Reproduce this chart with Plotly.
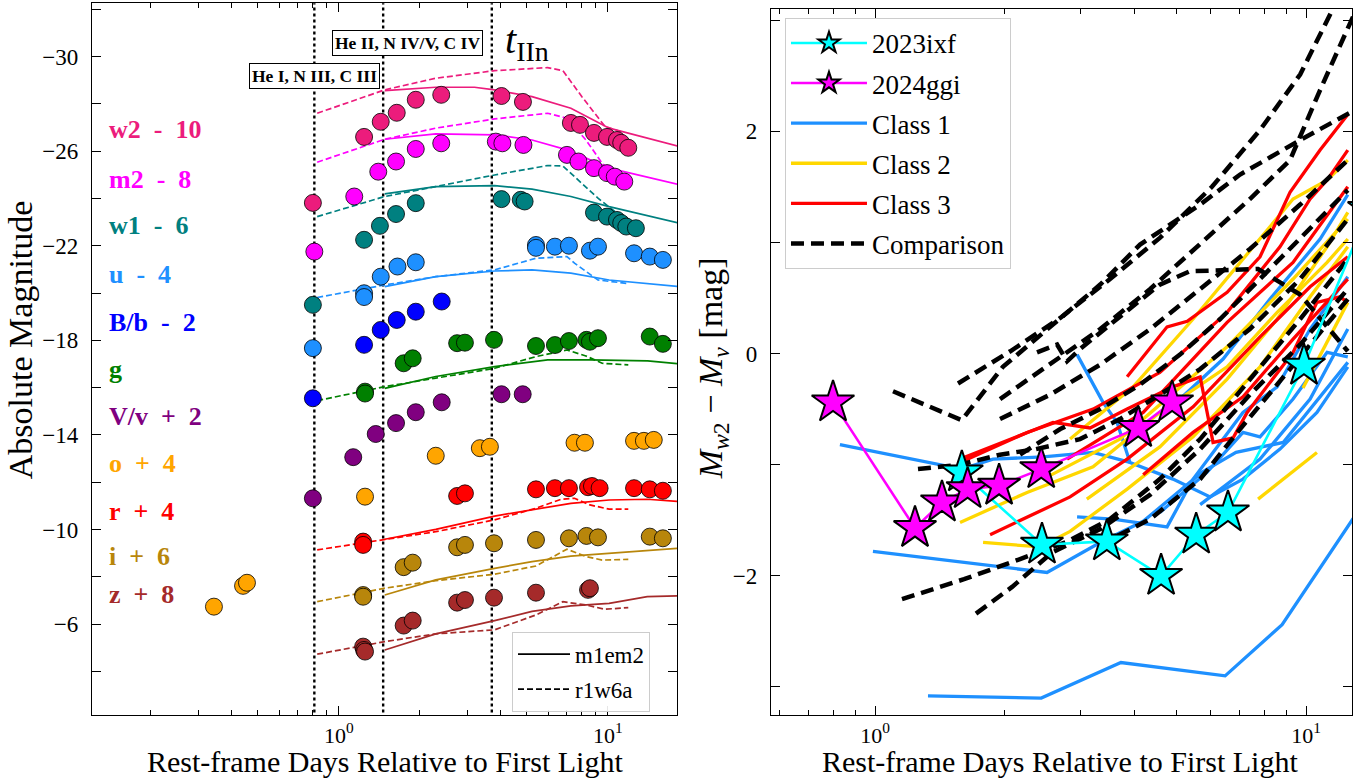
import numpy as np
import plotly.graph_objects as go

FONT = "Liberation Serif"

# ---------------- LEFT PANEL DATA (rest-frame days, absolute magnitude incl. offset) ----------------
w2_t = [0.80, 1.24, 1.43, 1.64, 1.93, 2.40, 4.02, 4.83, 7.28, 7.87, 8.87, 9.92, 10.8, 11.2, 11.9]
w2_m = [-23.81, -26.60, -27.24, -27.62, -28.17, -28.38, -28.33, -28.08, -27.19, -27.11, -26.77, -26.60, -26.47, -26.35, -26.14]
m2_t = [0.81, 1.14, 1.40, 1.63, 1.93, 2.40, 3.83, 4.05, 4.85, 7.04, 7.77, 8.87, 9.92, 10.6, 11.5]
m2_m = [-21.75, -24.08, -25.13, -25.56, -26.09, -26.33, -26.40, -26.33, -26.26, -25.84, -25.56, -25.28, -25.07, -24.92, -24.71]
w1_t = [0.80, 1.24, 1.42, 1.63, 1.93, 4.02, 4.74, 4.90, 8.87, 9.92, 10.8, 11.2, 11.7, 12.7]
w1_m = [-19.50, -22.25, -22.84, -23.34, -23.80, -23.97, -23.94, -23.87, -23.40, -23.23, -23.09, -22.96, -22.81, -22.74]
u_t = [0.80, 1.24, 1.24, 1.43, 1.65, 1.93, 5.40, 5.40, 6.35, 7.16, 8.57, 9.18, 12.5, 14.3, 16.0]
u_m = [-17.67, -19.99, -19.83, -20.69, -21.12, -21.30, -22.03, -21.91, -21.96, -22.00, -21.79, -21.96, -21.68, -21.54, -21.40]
B_t = [0.80, 1.24, 1.43, 1.64, 1.93, 2.41]
B_m = [-15.55, -17.81, -18.44, -18.86, -19.21, -19.64]
g_t = [1.25, 1.25, 1.74, 1.88, 2.75, 2.94, 3.77, 5.40, 6.35, 7.16, 8.32, 8.57, 9.18, 14.3, 16.0]
g_m = [-15.83, -15.75, -17.03, -17.24, -17.88, -17.90, -18.02, -17.76, -17.80, -17.97, -18.02, -17.94, -18.09, -18.16, -17.85]
V_t = [0.80, 1.13, 1.37, 1.63, 1.93, 2.41, 4.02, 4.82]
V_m = [-11.32, -13.06, -14.04, -14.50, -14.96, -15.38, -15.72, -15.72]
o_t = [0.343, 0.44, 0.455, 1.25, 2.29, 3.34, 3.64, 7.51, 8.21, 12.5, 13.6, 14.8]
o_m = [-6.74, -7.62, -7.75, -11.39, -13.12, -13.44, -13.50, -13.67, -13.67, -13.75, -13.75, -13.79]
r_t = [1.23, 1.23, 2.75, 2.94, 5.40, 6.35, 7.16, 8.43, 8.72, 9.31, 12.5, 14.3, 16.0]
r_m = [-9.49, -9.35, -11.42, -11.53, -11.70, -11.75, -11.75, -11.79, -11.84, -11.75, -11.75, -11.70, -11.64]
i_t = [1.23, 1.23, 1.74, 1.88, 2.75, 2.94, 3.77, 5.40, 7.16, 8.32, 9.18, 14.3, 16.0]
i_m = [-7.23, -7.16, -8.41, -8.60, -9.25, -9.35, -9.42, -9.56, -9.63, -9.73, -9.67, -9.70, -9.63]
z_t = [1.23, 1.24, 1.25, 1.74, 1.88, 2.75, 2.94, 3.77, 5.40, 8.43, 8.57]
z_m = [-5.05, -4.91, -4.84, -5.94, -6.15, -6.91, -7.02, -7.12, -7.33, -7.45, -7.52]

# model m1em2 (solid) and r1w6a (dashed)
w2_sol_t = [1.48, 2.29, 3.19, 3.79, 5.22, 7.28, 10.1, 11.9, 18.5]
w2_sol_m = [-28.56, -28.70, -28.70, -28.59, -28.30, -27.81, -26.97, -26.76, -26.19]
w2_das_t = [0.83, 1.48, 2.29, 3.79, 5.97, 6.80, 8.00, 9.75, 11.2]
w2_das_m = [-27.60, -28.59, -29.08, -29.40, -29.53, -29.40, -28.30, -27.04, -26.82]
m2_sol_t = [1.48, 2.29, 3.79, 5.22, 7.04, 10.1, 18.5]
m2_sol_m = [-26.50, -26.73, -26.69, -26.47, -26.05, -25.28, -24.57]
m2_das_t = [0.83, 1.48, 2.29, 3.79, 5.97, 7.04, 8.28, 9.51, 10.4]
m2_das_m = [-25.53, -26.50, -26.97, -27.36, -27.60, -27.39, -26.47, -25.49, -25.07]
w1_sol_t = [1.48, 2.29, 3.79, 5.22, 7.28, 10.1, 18.5]
w1_sol_m = [-24.19, -24.50, -24.54, -24.39, -24.08, -23.65, -22.95]
w1_das_t = [0.83, 1.48, 2.29, 3.79, 5.97, 6.80, 7.51, 9.18, 11.2]
w1_das_m = [-23.23, -24.08, -24.50, -24.99, -25.39, -25.37, -24.92, -24.01, -23.23]
u_sol_t = [1.48, 2.29, 3.79, 5.22, 7.28, 10.1, 18.5]
u_sol_m = [-20.27, -20.69, -20.93, -20.98, -20.84, -20.55, -20.27]
u_das_t = [0.83, 1.48, 2.29, 3.79, 5.40, 7.04, 7.51, 9.18, 11.7]
u_das_m = [-19.81, -20.34, -20.69, -20.98, -21.47, -21.54, -21.26, -20.55, -20.41]
g_sol_t = [1.48, 2.29, 3.79, 5.97, 8.57, 14.05, 18.5]
g_sol_m = [-15.97, -16.47, -16.89, -17.17, -17.17, -17.13, -17.00]
g_das_t = [0.83, 1.48, 2.29, 3.79, 5.40, 7.04, 8.28, 9.51, 11.9]
g_das_m = [-15.45, -16.04, -16.40, -16.82, -17.31, -17.59, -17.34, -17.03, -16.96]
r_sol_t = [1.48, 2.29, 3.79, 5.22, 7.28, 10.1, 14.0, 18.5]
r_sol_m = [-9.59, -10.01, -10.57, -10.83, -11.11, -11.25, -11.28, -11.18]
r_das_t = [0.83, 1.48, 2.29, 3.79, 5.40, 6.69, 7.51, 8.57, 10.1, 11.9]
r_das_m = [-9.14, -9.59, -9.91, -10.41, -10.90, -11.28, -11.32, -11.04, -10.86, -10.86]
i_sol_t = [1.48, 2.29, 3.79, 5.22, 7.28, 10.1, 14.0, 18.5]
i_sol_m = [-7.23, -7.87, -8.36, -8.64, -8.88, -9.00, -9.14, -9.21]
i_das_t = [0.83, 1.48, 2.29, 3.79, 5.40, 7.04, 8.28, 9.51, 11.9]
i_das_m = [-6.95, -7.52, -7.84, -8.11, -8.46, -9.17, -8.86, -8.71, -8.74]
z_sol_t = [1.48, 2.29, 3.79, 5.22, 7.28, 10.1, 14.0, 18.5]
z_sol_m = [-4.91, -5.59, -6.15, -6.54, -6.77, -6.88, -7.16, -7.20]
z_das_t = [0.83, 1.48, 2.29, 3.79, 5.40, 6.80, 8.28, 9.75, 11.9]
z_das_m = [-4.73, -5.26, -5.59, -5.76, -6.39, -6.95, -6.81, -6.63, -6.70]

# vertical phase markers (days)
phase_days = [0.81, 1.46, 3.70]

filter_labels = ["w2\u2002-\u200210", "m2\u2002-\u20028", "w1\u2002-\u20026", "u\u2002-\u20024",
                 "B/b\u2002-\u20022", "g", "V/v\u2002+\u20022", "o\u2002+\u20024", "r\u2002+\u20024",
                 "i\u2002+\u20026", "z\u2002+\u20028"]
filter_colors = ["#EC1C7C", "#FF00FF", "#008080", "#1E90FF", "#0000FF", "#008000", "#800080", "#FFA500", "#FF0000", "#B8860B", "#A52A2A"]
label_mags = [-26.90, -24.78, -22.84, -20.77, -18.74, -16.75, -14.80, -12.78, -10.77, -8.84, -7.27]

# ---------------- RIGHT PANEL DATA (days, M_w2 - M_v) ----------------
ixf_t = [1.59, 2.44, 3.45, 4.61, 5.56, 6.59, 9.89, 14.0]
ixf_c = [-1.07, -1.72, -1.69, -2.00, -1.63, -1.43, -0.11, 1.30]
ggi_t = [0.799, 1.238, 1.43, 1.64, 1.94, 2.43, 4.08, 4.89]
ggi_c = [-0.44, -1.57, -1.34, -1.22, -1.19, -1.04, -0.67, -0.44]

class1_t = [
    [1.327, 2.43, 3.72, 6.49, 8.80, 13.2],
    [0.829, 1.59, 1.878, 2.454, 3.205, 3.905],
    [0.989, 2.506, 3.33, 4.19, 5.73, 6.88, 8.85, 12.5],
    [2.943, 3.381, 3.644, 3.905, 4.91, 5.99, 7.14, 8.70, 10.6, 12.5],
    [2.943, 3.566, 4.76, 5.47, 7.14, 8.57, 10.22, 12.5],
    [4.58, 5.89, 7.14, 7.82, 9.33, 11.19, 12.5],
    [5.10, 6.42, 8.25, 10.78, 12.5],
    [5.68, 7.82, 10.22, 12.5],
]
class1_c = [
    [-3.08, -3.10, -2.78, -2.90, -2.44, -1.42],
    [-0.82, -1.04, -0.95, -0.93, -0.89, -0.98],
    [-1.78, -1.97, -1.70, -1.51, -1.07, -0.89, -0.80, -0.08],
    [-0.01, -0.44, -0.62, -0.98, -1.13, -1.29, -1.13, -0.86, -0.53, -0.12],
    [-1.47, -1.49, -1.56, -1.13, -0.53, -0.30, 0.22, 0.69],
    [-1.43, -1.07, -0.71, -0.75, -0.41, 0.01, -0.03],
    [-0.41, -0.05, 0.49, 1.03, 1.43],
    [-1.36, -0.95, -0.41, 0.22],
]
class2_t = [
    [1.575, 2.253, 3.205, 4.58, 6.56, 8.57, 11.19, 12.5],
    [1.781, 2.415, 2.835, 3.845, 5.47, 7.82, 10.22, 12.5],
    [3.10, 4.58, 6.56, 8.57, 11.19, 12.5],
    [2.835, 3.97, 5.47, 7.14, 9.33, 11.19, 12.5],
    [2.454, 3.70, 6.56, 9.33, 12.5],
    [7.74, 10.6],
    [9.84, 12.5],
]
class2_c = [
    [-1.52, -1.25, -1.02, -0.53, -0.12, 0.37, 0.82, 1.03],
    [-1.70, -1.74, -1.60, -1.22, -0.75, -0.12, 0.51, 0.96],
    [-1.31, -0.84, -0.23, 0.31, 0.96, 1.27],
    [-0.77, -0.30, 0.31, 0.85, 1.39, 1.56, 1.74],
    [-1.13, -0.77, 0.06, 0.67, 1.21],
    [-1.31, -0.89],
    [-0.31, 0.46],
]
class3_t = [
    [1.575, 2.588, 3.154, 3.845, 4.91, 5.68, 6.085, 6.77, 7.30, 9.33, 10.6, 11.99, 12.5],
    [1.575, 2.253, 3.205, 4.58, 6.56, 8.70, 10.22, 11.19, 12.5],
    [3.845, 4.76, 5.30, 6.56, 7.82, 9.18, 10.78, 12.5],
    [1.849, 2.835, 3.845, 5.47, 7.82, 10.22, 12.5],
    [2.79, 4.19, 6.56, 9.33, 12.5],
    [4.19, 5.47, 7.14, 9.33, 12.5],
]
class3_c = [
    [-0.95, -0.62, -0.67, -0.50, -0.30, -0.21, -0.80, -0.76, -0.53, 0.01, 0.46, 0.51, 0.46],
    [-0.98, -0.71, -0.50, -0.17, 0.37, 0.96, 1.39, 1.56, 1.83],
    [-0.21, 0.24, 0.29, 0.55, 0.87, 1.45, 1.83, 2.15],
    [-1.63, -1.29, -0.95, -0.48, 0.15, 0.60, 0.87],
    [-0.95, -0.53, 0.28, 0.82, 1.50],
    [-1.09, -0.71, -0.39, 0.13, 0.67],
]
comp_t = [
    [1.101, 1.59, 1.98, 2.47, 3.33, 4.12, 5.68, 7.03, 9.69, 12.98],
    [1.558, 2.06, 2.69, 3.51, 4.58, 6.05, 7.82, 9.69, 11.68],
    [1.95, 2.55, 3.33, 4.35, 5.68, 7.41, 9.18, 10.78, 13.06],
    [2.376, 2.645, 2.79, 2.99, 3.51, 4.58, 5.38, 7.74, 9.69, 12.5],
    [1.95, 2.55, 3.33, 4.35, 5.68, 7.41, 9.69, 12.5],
    [2.17, 2.69, 3.33, 4.12, 5.10, 6.32, 7.82, 9.69, 12.5],
    [1.155, 1.609, 2.17, 2.80, 3.51, 4.58, 5.68, 7.41, 9.69, 12.5],
    [1.715, 2.08, 2.575, 3.33, 4.35, 5.68, 7.41, 9.69, 12.5],
    [1.258, 1.575, 1.95, 2.363, 2.99, 3.70, 4.58, 5.68, 7.41, 9.69, 12.5],
    [3.33, 4.35, 5.68, 7.03, 9.18, 12.5],
]
comp_c = [
    [-0.34, -0.60, -0.12, 0.19, 0.62, 0.98, 1.34, 1.61, 1.92, 2.19],
    [-0.27, 0.02, 0.32, 0.67, 1.04, 1.50, 2.01, 2.51, 3.14],
    [-0.41, -0.10, 0.22, 0.58, 0.98, 1.39, 1.74, 2.37, 3.09],
    [0.01, 0.08, -0.07, 0.04, 0.26, 0.62, 0.74, 0.76, 0.53, 0.02],
    [-0.59, -0.37, -0.10, 0.22, 0.58, 0.94, 1.34, 1.74],
    [-0.91, -0.68, -0.50, -0.28, -0.01, 0.31, 0.67, 1.03, 1.47],
    [-2.21, -2.03, -1.85, -1.69, -1.49, -1.13, -0.77, -0.23, 0.31, 0.85],
    [-2.34, -2.10, -1.79, -1.58, -1.27, -0.86, -0.37, 0.08, 0.58],
    [-1.04, -1.00, -0.91, -0.86, -0.77, -0.59, -0.37, -0.14, 0.22, 0.67, 1.21],
    [-1.72, -1.49, -1.13, -0.68, -0.14, 0.49],
]

# ---------------- FIGURE ----------------
fig = go.Figure()

for d in phase_days:
    fig.add_trace(go.Scatter(x=[d, d], y=[-1.0, -34.0], mode="lines", xaxis="x", yaxis="y",
                             line=dict(color="black", width=2.4, dash="dot"), showlegend=False, hoverinfo="skip"))

model_sets = [
    (w2_sol_t, w2_sol_m, w2_das_t, w2_das_m, filter_colors[0]),
    (m2_sol_t, m2_sol_m, m2_das_t, m2_das_m, filter_colors[1]),
    (w1_sol_t, w1_sol_m, w1_das_t, w1_das_m, filter_colors[2]),
    (u_sol_t, u_sol_m, u_das_t, u_das_m, filter_colors[3]),
    (g_sol_t, g_sol_m, g_das_t, g_das_m, filter_colors[5]),
    (r_sol_t, r_sol_m, r_das_t, r_das_m, filter_colors[8]),
    (i_sol_t, i_sol_m, i_das_t, i_das_m, filter_colors[9]),
    (z_sol_t, z_sol_m, z_das_t, z_das_m, filter_colors[10]),
]
for st, sm, dt, dm, col in model_sets:
    fig.add_trace(go.Scatter(x=st, y=sm, mode="lines", xaxis="x", yaxis="y",
                             line=dict(color=col, width=1.7), showlegend=False, hoverinfo="skip"))
    fig.add_trace(go.Scatter(x=dt, y=dm, mode="lines", xaxis="x", yaxis="y",
                             line=dict(color=col, width=1.7, dash="6px,3px"), showlegend=False, hoverinfo="skip"))

phot = [(w2_t, w2_m), (m2_t, m2_m), (w1_t, w1_m), (u_t, u_m), (B_t, B_m), (g_t, g_m),
        (V_t, V_m), (o_t, o_m), (r_t, r_m), (i_t, i_m), (z_t, z_m)]
for (t, m), col in zip(phot, filter_colors):
    fig.add_trace(go.Scatter(x=t, y=m, mode="markers", xaxis="x", yaxis="y",
                             marker=dict(size=17, color=col, line=dict(color="black", width=0.8)),
                             showlegend=False))

fig.add_trace(go.Scatter(x=[None], y=[None], mode="lines", xaxis="x", yaxis="y", name="m1em2",
                         line=dict(color="black", width=1.8), legend="legend2", legendgroup="a"))
fig.add_trace(go.Scatter(x=[None], y=[None], mode="lines", xaxis="x", yaxis="y", name="r1w6a",
                         line=dict(color="black", width=1.8, dash="6px,3px"), legend="legend2", legendgroup="b"))

for k, (t, c) in enumerate(zip(class1_t, class1_c)):
    fig.add_trace(go.Scatter(x=t, y=c, mode="lines", xaxis="x2", yaxis="y2", name="Class 1",
                             line=dict(color="#1E90FF", width=3.3), showlegend=(k == 0),
                             legendgroup="c1", legendrank=3))
for k, (t, c) in enumerate(zip(class2_t, class2_c)):
    fig.add_trace(go.Scatter(x=t, y=c, mode="lines", xaxis="x2", yaxis="y2", name="Class 2",
                             line=dict(color="#FFD700", width=3.3), showlegend=(k == 0),
                             legendgroup="c2", legendrank=4))
for k, (t, c) in enumerate(zip(class3_t, class3_c)):
    fig.add_trace(go.Scatter(x=t, y=c, mode="lines", xaxis="x2", yaxis="y2", name="Class 3",
                             line=dict(color="#FF0000", width=3.3), showlegend=(k == 0),
                             legendgroup="c3", legendrank=5))
for k, (t, c) in enumerate(zip(comp_t, comp_c)):
    fig.add_trace(go.Scatter(x=t, y=c, mode="lines", xaxis="x2", yaxis="y2", name="Comparison",
                             line=dict(color="black", width=4.5, dash="13px,7px"), showlegend=(k == 0),
                             legendgroup="cmp", legendrank=6))

fig.add_trace(go.Scatter(x=ixf_t, y=ixf_c, mode="lines+markers", xaxis="x2", yaxis="y2", name="2023ixf",
                         line=dict(color="#00FFFF", width=2.6),
                         marker=dict(symbol="star", size=32, color="#00FFFF", line=dict(color="black", width=2)),
                         legendgroup="ixf", legendrank=1))
fig.add_trace(go.Scatter(x=ggi_t, y=ggi_c, mode="lines+markers", xaxis="x2", yaxis="y2", name="2024ggi",
                         line=dict(color="#FF00FF", width=2.6),
                         marker=dict(symbol="star", size=32, color="#FF00FF", line=dict(color="black", width=2)),
                         legendgroup="ggi", legendrank=2))

# ---------------- AXES ----------------
axcommon = dict(showline=True, linecolor="black", linewidth=1.3, mirror="allticks", ticks="inside",
                tickcolor="black", tickwidth=1.1, ticklen=9, showgrid=False, zeroline=False,
                tickfont=dict(family=FONT, size=23, color="black"), automargin=False)

left_minor = [0.2, 0.3, 0.4, 0.5, 0.6, 0.7, 0.8, 0.9, 2, 3, 4, 5, 6, 7, 8, 9]
right_minor = [0.6, 0.7, 0.8, 0.9, 2, 3, 4, 5, 6, 7, 8, 9]
minor_x = dict(ticks="inside", ticklen=5, tickcolor="black", tickwidth=1, showgrid=False)
minor_y = dict(ticks="inside", ticklen=9, tickcolor="black", tickwidth=1.1, showgrid=False)

ly_major = [-30, -26, -22, -18, -14, -10, -6]
ly_text = ["\u2212" + str(-v) for v in ly_major]
ly_minor = [-32, -28, -24, -20, -16, -12, -8, -4]
ry_major = [-2, 0, 2]
ry_text = ["\u22122", "0", "2"]
ry_minor = [-3, -1, 1, 3]

xtickfont = dict(family=FONT, size=22, color="black")

fig.update_layout(
    width=1369, height=778,
    margin=dict(l=0, r=0, t=0, b=0),
    template="none",
    paper_bgcolor="white", plot_bgcolor="white",
    font=dict(family=FONT, color="black"),
    xaxis=dict(axcommon, type="log", domain=[0.0672, 0.4945], anchor="y",
               range=[-0.918, 1.2565], tickvals=[1, 10], tickfont=xtickfont,
               ticktext=["10<sup>0</sup>", "10<sup>1</sup>"], ticklabelstandoff=0,
               minor=dict(minor_x, tickvals=left_minor)),
    yaxis=dict(axcommon, domain=[0.081, 0.9958], anchor="x",
               range=[-2.16, -32.25], tickvals=ly_major, ticktext=ly_text, ticklabelstandoff=8,
               minor=dict(minor_y, tickvals=ly_minor)),
    xaxis2=dict(axcommon, type="log", domain=[0.5632, 0.9876], anchor="y2",
                range=[-0.2413, 1.1067], tickvals=[1, 10], tickfont=xtickfont,
                ticktext=["10<sup>0</sup>", "10<sup>1</sup>"], ticklabelstandoff=0,
                minor=dict(minor_x, tickvals=right_minor)),
    yaxis2=dict(axcommon, domain=[0.081, 0.9884], anchor="x2",
                range=[-3.252, 3.099], tickvals=ry_major, ticktext=ry_text, ticklabelstandoff=8,
                minor=dict(minor_y, tickvals=ry_minor)),
    legend=dict(x=0.5734, y=0.977, xanchor="left", yanchor="top", bgcolor="rgba(255,255,255,0.9)",
                bordercolor="#cccccc", borderwidth=1, font=dict(family=FONT, size=27, color="black"),
                tracegroupgap=2, itemwidth=76),
    legend2=dict(x=0.374, y=0.188, xanchor="left", yanchor="top", bgcolor="rgba(255,255,255,0.9)",
                 bordercolor="#cccccc", borderwidth=1, font=dict(family=FONT, size=23, color="black"),
                 tracegroupgap=2, itemwidth=52),
)

ann = []
ann.append(dict(text="Rest-frame Days Relative to First Light", xref="paper", yref="paper",
                x=0.2815, y=0.021, xanchor="center", yanchor="middle", showarrow=False,
                font=dict(family=FONT, size=30, color="black")))
ann.append(dict(text="Rest-frame Days Relative to First Light", xref="paper", yref="paper",
                x=0.7745, y=0.021, xanchor="center", yanchor="middle", showarrow=False,
                font=dict(family=FONT, size=30, color="black")))
ann.append(dict(text="Absolute Magnitude", xref="paper", yref="paper", x=0.0155, y=0.563,
                xanchor="center", yanchor="middle", textangle=-90, showarrow=False,
                font=dict(family=FONT, size=34, color="black")))
ann.append(dict(text="<i>M</i><sub><i>w</i>2</sub> \u2212 <i>M</i><sub><i>v</i></sub> [mag]",
                xref="paper", yref="paper", x=0.5205, y=0.526,
                xanchor="center", yanchor="middle", textangle=-90, showarrow=False,
                font=dict(family=FONT, size=34, color="black")))
for lab, col, ym in zip(filter_labels, filter_colors, label_mags):
    ann.append(dict(text="<b>" + lab + "</b>", xref="x domain", yref="y", x=0.026, y=ym,
                    xanchor="left", yanchor="middle", showarrow=False,
                    font=dict(family=FONT, size=26, color=col)))
ann.append(dict(text="<b>He I, N III, C III</b>", xref="x", yref="y", x=np.log10(0.81), y=-29.18,
                xanchor="center", yanchor="middle", showarrow=False, bgcolor="white",
                bordercolor="black", borderwidth=1, borderpad=2,
                font=dict(family=FONT, size=17.5, color="black")))
ann.append(dict(text="<b>He II, N IV/V, C IV</b>", xref="x", yref="y", x=np.log10(1.805), y=-30.57,
                xanchor="center", yanchor="middle", showarrow=False, bgcolor="white",
                bordercolor="black", borderwidth=1, borderpad=2,
                font=dict(family=FONT, size=17.5, color="black")))
ann.append(dict(text="<i>t</i><sub>IIn</sub>", xref="x", yref="y", x=np.log10(4.07), y=-30.6,
                xanchor="left", yanchor="middle", showarrow=False,
                font=dict(family=FONT, size=40, color="black")))
fig.update_layout(annotations=ann)

fig.write_html("out.html", config={"displayModeBar": False},
               post_script="document.body.style.margin='0px';")
